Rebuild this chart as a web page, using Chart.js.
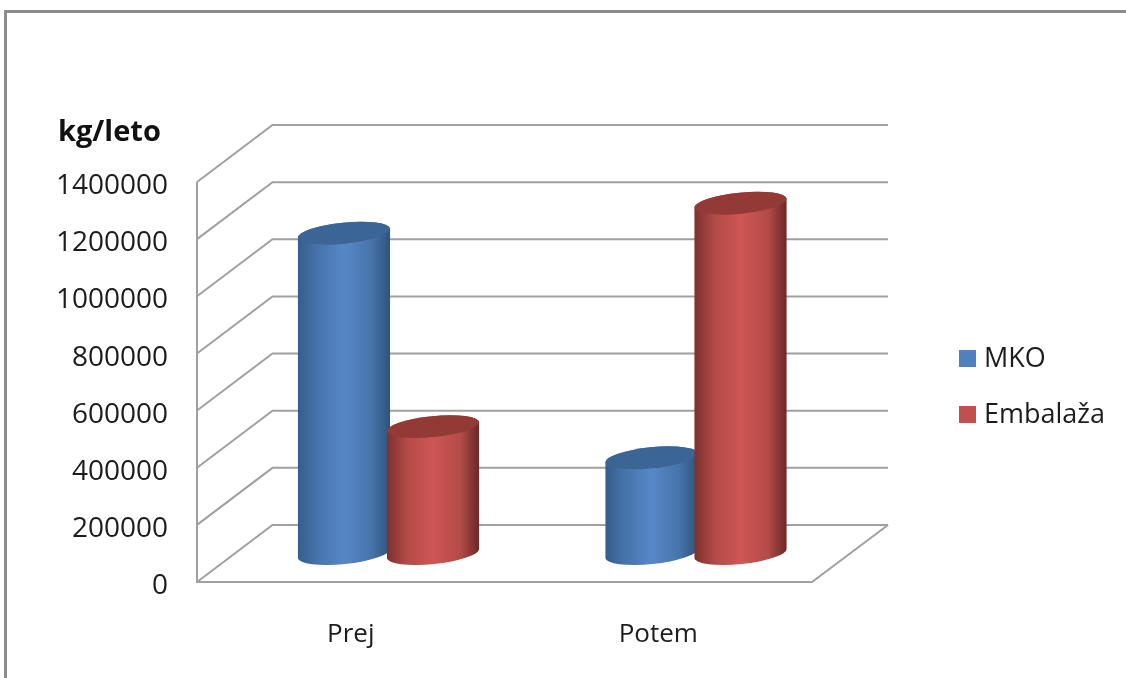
<!DOCTYPE html>
<html>
<head>
<meta charset="utf-8">
<title>kg/leto</title>
<script src="https://cdn.jsdelivr.net/npm/chart.js@4"></script>
<style>
    html, body { margin: 0; padding: 0; background: #fff; overflow: hidden; }
    #wrap { position: relative; width: 1126px; height: 678px; overflow: hidden; }
    #frame { position: absolute; left: 4px; top: 10px; width: 1200px; height: 800px; border: 3px solid #8c8c8c; }
    canvas { position: absolute; left: 0; top: 0; }
</style>
</head>
<body>
<div id="wrap">
    <div id="frame"></div>
    <canvas id="wasteChart" width="1126" height="678"></canvas>
</div>
<script>
const categories = ['Prej', 'Potem'];
const mkoValues = [1121000, 335000];
const embalazaValues = [444000, 1226000];
const axisTitle = 'kg/leto';
const yMax = 1400000;
const yStep = 200000;

const FONT = '"Open Sans"';
const TEXT = '#1c1c1c';
const GRID = '#a0a0a0';

// how far the back wall sits from the front plane, in pixels
const DEPTH_X = 75.5;
const DEPTH_Y = 57;
const WALL_RIGHT = 888;

const shades = {
    MKO: { base: '#4f81bd', edgeL: '#355d8c', edgeR: '#2f5379', side: '#4674ab', mid: '#5787c6', top: '#3a6595' },
    'Embalaža': { base: '#c0504d', edgeL: '#7c302e', edgeR: '#6a2826', side: '#b24b48', mid: '#cf5654', top: '#933a37' }
};

// Back wall, left wall and floor, hung off the y scale ticks
const drawWalls = (chart) => {
    const { ctx, chartArea, scales } = chart;
    const left = chartArea.left;
    ctx.save();
    ctx.strokeStyle = GRID;
    ctx.lineWidth = 2;
    ctx.lineJoin = 'miter';
    scales.y.ticks.forEach(tick => {
        const y = scales.y.getPixelForValue(tick.value);
        ctx.beginPath();
        ctx.moveTo(left, y);
        ctx.lineTo(left + DEPTH_X, y - DEPTH_Y);
        ctx.lineTo(WALL_RIGHT, y - DEPTH_Y);
        ctx.stroke();
    });
    // front edge of the floor and its right side
    ctx.beginPath();
    ctx.moveTo(left, chartArea.top);
    ctx.lineTo(left, chartArea.bottom);
    ctx.lineTo(chartArea.right, chartArea.bottom);
    ctx.lineTo(WALL_RIGHT, chartArea.bottom - DEPTH_Y);
    ctx.stroke();
    ctx.restore();
};

// One cylinder, placed half way into the floor depth
const drawCylinder = (ctx, bar, colors) => {
    const cx = bar.x + DEPTH_X / 2;
    const rx = bar.width / 2;
    const ry = 10.5;
    const tilt = -0.1;
    const topY = bar.y - DEPTH_Y / 2;
    const baseY = bar.base - DEPTH_Y / 2;

    const fill = ctx.createLinearGradient(cx - rx, 0, cx + rx, 0);
    fill.addColorStop(0, colors.edgeL);
    fill.addColorStop(0.22, colors.side);
    fill.addColorStop(0.5, colors.mid);
    fill.addColorStop(0.8, colors.side);
    fill.addColorStop(1, colors.edgeR);

    ctx.beginPath();
    ctx.ellipse(cx, baseY, rx, ry, tilt, Math.PI, 0, true);
    ctx.ellipse(cx, topY, rx, ry, tilt, 0, Math.PI, true);
    ctx.closePath();
    ctx.fillStyle = fill;
    ctx.fill();

    ctx.beginPath();
    ctx.ellipse(cx, topY, rx, ry, tilt, 0, Math.PI * 2);
    ctx.fillStyle = colors.top;
    ctx.fill();
};

const cylinderPlugin = {
    id: 'cylinders',
    beforeDatasetsDraw(chart) {
        drawWalls(chart);
        // later series sit in front of earlier ones
        chart.data.datasets.forEach((dataset, i) => {
            chart.getDatasetMeta(i).data.forEach(bar => {
                drawCylinder(chart.ctx, bar, shades[dataset.label]);
            });
        });
    },
    // the flat bars are replaced by the cylinders above
    beforeDatasetDraw() {
        return false;
    }
};

// Unit label above the y axis and the legend beside the plot
const sideTextPlugin = {
    id: 'sideText',
    afterDraw(chart) {
        const { ctx } = chart;
        ctx.save();
        ctx.textBaseline = 'middle';
        ctx.font = `bold 29px ${FONT}`;
        ctx.fillStyle = '#111';
        ctx.fillText(axisTitle, 58, 133);
        ctx.font = `27px ${FONT}`;
        chart.data.datasets.forEach((dataset, i) => {
            const rowY = 358 + i * 56;
            ctx.fillStyle = dataset.backgroundColor;
            ctx.fillRect(959, rowY - 8, 17, 17);
            ctx.fillStyle = TEXT;
            ctx.fillText(dataset.label, 984, rowY + 1);
        });
        ctx.restore();
    }
};

new Chart(document.getElementById('wasteChart'), {
    type: 'bar',
    data: {
        labels: categories,
        datasets: [
            { label: 'MKO', data: mkoValues, backgroundColor: shades.MKO.base },
            { label: 'Embalaža', data: embalazaValues, backgroundColor: shades['Embalaža'].base }
        ]
    },
    options: {
        responsive: false,
        animation: false,
        categoryPercentage: 0.579,
        barPercentage: 1.04,
        layout: { padding: { top: 182, left: 40, right: 314, bottom: 0 } },
        plugins: {
            legend: { display: false },
            tooltip: { enabled: false }
        },
        scales: {
            x: {
                grid: { display: false },
                border: { display: false },
                ticks: { color: TEXT, font: { family: FONT, size: 26 }, padding: 29, maxRotation: 0 },
                afterFit: scale => { scale.height = 96; }
            },
            y: {
                min: 0,
                max: yMax,
                grid: { display: false },
                border: { display: false },
                ticks: {
                    stepSize: yStep,
                    color: TEXT,
                    font: { family: FONT, size: 28, lineHeight: 0.3 },
                    padding: 21,
                    // empty first line drops the number slightly below its gridline
                    callback: value => ['', String(value)]
                },
                afterFit: scale => { scale.width = 157; }
            }
        }
    },
    plugins: [cylinderPlugin, sideTextPlugin]
});
</script>
</body>
</html>
